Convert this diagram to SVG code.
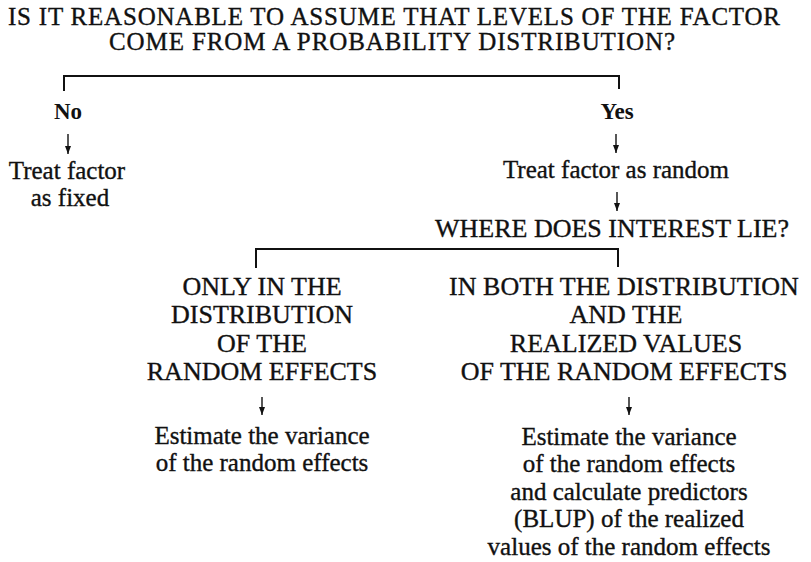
<svg xmlns="http://www.w3.org/2000/svg" width="811" height="562" viewBox="0 0 811 562">
<defs>
<style>
.caps{font-family:"Liberation Serif","Times New Roman",serif;font-size:26px;fill:#111;stroke:#111;stroke-width:0.35;text-anchor:middle}
.title{font-family:"Liberation Serif","Times New Roman",serif;font-size:25px;fill:#111;stroke:#111;stroke-width:0.35;text-anchor:middle}
.body{font-family:"Liberation Serif","Times New Roman",serif;font-size:25px;fill:#111;stroke:#111;stroke-width:0.35;text-anchor:middle}
.ans{font-family:"Liberation Serif","Times New Roman",serif;font-size:23px;font-weight:bold;fill:#111;text-anchor:middle}
.br{fill:none;stroke:#111;stroke-width:2}
.ar{fill:none;stroke:#111;stroke-width:1.4;marker-end:url(#ah)}
</style>
<marker id="ah" markerUnits="userSpaceOnUse" markerWidth="9" markerHeight="7" refX="8" refY="3" orient="auto" viewBox="0 0 9 6">
<path d="M0,0 L8,3 L0,6 Z" fill="#111"/>
</marker>
</defs>
<rect width="811" height="562" fill="#fff"/>
<g id="question1">
<text class="title" x="394" y="25" textLength="772" lengthAdjust="spacing">IS IT REASONABLE TO ASSUME THAT LEVELS OF THE FACTOR</text>
<text class="title" x="392" y="50" textLength="566" lengthAdjust="spacing">COME FROM A PROBABILITY DISTRIBUTION?</text>
</g>
<g id="no"><text class="ans" x="68" y="119">No</text></g>
<g id="yes"><text class="ans" x="617" y="119">Yes</text></g>
<g id="fixed">
<text class="body" x="67" y="179">Treat factor</text>
<text class="body" x="70" y="206">as fixed</text>
</g>
<g id="random"><text class="body" x="616" y="178">Treat factor as random</text></g>
<g id="question2"><text class="caps" x="612" y="237">WHERE DOES INTEREST LIE?</text></g>
<g id="only">
<text class="caps" x="262" y="295">ONLY IN THE</text>
<text class="caps" x="262" y="323">DISTRIBUTION</text>
<text class="caps" x="262" y="352">OF THE</text>
<text class="caps" x="262" y="380">RANDOM EFFECTS</text>
</g>
<g id="both">
<text class="caps" x="624" y="295">IN BOTH THE DISTRIBUTION</text>
<text class="caps" x="626" y="323">AND THE</text>
<text class="caps" x="626" y="352">REALIZED VALUES</text>
<text class="caps" x="624" y="380">OF THE RANDOM EFFECTS</text>
</g>
<g id="estimate1">
<text class="body" x="262" y="444">Estimate the variance</text>
<text class="body" x="262" y="471">of the random effects</text>
</g>
<g id="estimate2">
<text class="body" x="629" y="445">Estimate the variance</text>
<text class="body" x="629" y="472">of the random effects</text>
<text class="body" x="629" y="500">and calculate predictors</text>
<text class="body" x="629" y="527">(BLUP) of the realized</text>
<text class="body" x="629" y="555">values of the random effects</text>
</g>
<g id="connectors">
<path class="br" d="M64,91 V76 H619 V89"/>
<path class="br" d="M256,268 V249 H618 V267"/>
<line class="ar" x1="68" y1="134" x2="68" y2="154"/>
<line class="ar" x1="616" y1="134" x2="616" y2="153"/>
<line class="ar" x1="617" y1="192" x2="617" y2="211"/>
<line class="ar" x1="262" y1="397" x2="262" y2="415"/>
<line class="ar" x1="629" y1="397" x2="629" y2="415"/>
</g>
</svg>
